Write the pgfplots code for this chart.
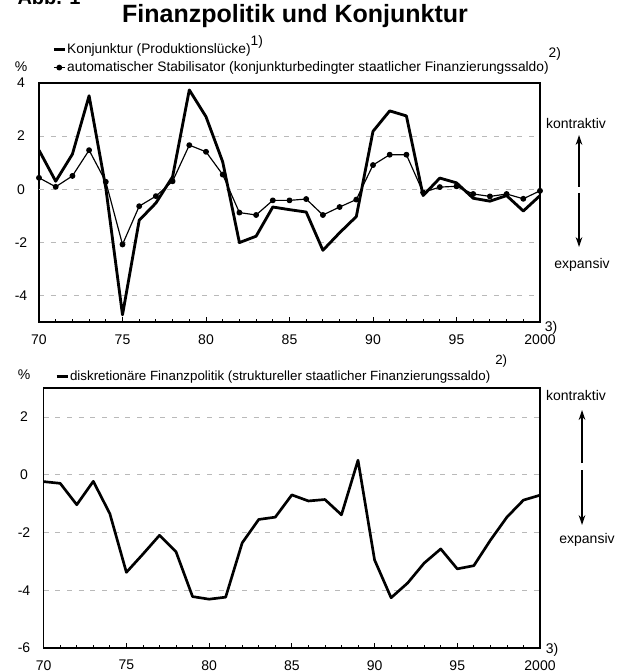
\documentclass[border=0pt]{standalone}
\usepackage{fontspec}
\setmainfont{Liberation Sans}
\usepackage{pgfplots}
\pgfplotsset{compat=1.18}
\usetikzlibrary{arrows.meta}

\pgfplotsset{
  finstil/.style={
    scale only axis,
    xmin=1970, xmax=2000,
    xtick={1970,1975,...,2000},
    xticklabels={70,75,80,85,90,95,2000},
    minor x tick num=4,
    xtick pos=bottom,
    tick align=inside,
    major tick length=3pt,
    minor tick length=2pt,
    every tick/.style={black, line width=0.5pt},
    ytick style={draw=none},
    ymajorgrids,
    major grid style={gray!55, line width=0.45pt, dash pattern=on 3pt off 4pt},
    extra y ticks={0},
    extra y tick labels={},
    extra y tick style={grid style={solid, black, line width=0.75pt}},
    axis line style={line width=0.8pt},
    ticklabel style={font=\fontsize{8.4}{10}\selectfont},
    yticklabel style={anchor=center},
    legend cell align=left,
    legend image code/.code={\draw[mark repeat=2,mark phase=2,##1]
      plot coordinates {(0pt,0pt) (3.3pt,0pt) (6.6pt,0pt)};},
  },
}

\begin{document}
\begin{tikzpicture}
\useasboundingbox (0,0) rectangle (373.2pt,-403.2pt);

% Kopf
\node[overlay, anchor=base west, font=\bfseries\fontsize{12}{12}\selectfont] at (7pt,-3pt) {Abb. 1};
\node[font=\bfseries\fontsize{15}{15}\selectfont] at (177pt,-9.6pt) {Finanzpolitik und Konjunktur};

% oberes Diagramm
\begin{axis}[finstil,
  at={(23.4pt,-193.2pt)}, anchor=south west,
  width=300.6pt, height=143.4pt,
  ymin=-5, ymax=4,
  ytick={-4,-2,0,2,4}, yticklabels={-4,-2,0,2,4},
  yticklabel style={xshift=-10.8pt},
  xticklabel style={yshift=-4.4pt},
  legend style={at={(0.026,1.172)}, anchor=north west, draw=none, fill=none,
    inner sep=0pt, row sep=2.2pt, font=\fontsize{8.25}{9.8}\selectfont,
    nodes={inner sep=0.6pt}},
]
\addplot[black, line width=1.7pt, line join=round, mark=none] coordinates {
(1970,1.47) (1971,0.30) (1972,1.32) (1973,3.52) (1974,0.05) (1975,-4.73)
(1976,-1.17) (1977,-0.52) (1978,0.47) (1979,3.74) (1980,2.73) (1981,1.03)
(1982,-2.01) (1983,-1.77) (1984,-0.67) (1985,-0.77) (1986,-0.86) (1987,-2.30)
(1988,-1.64) (1989,-1.03) (1990,2.18) (1991,2.95) (1992,2.76) (1993,-0.24)
(1994,0.42) (1995,0.24) (1996,-0.34) (1997,-0.45) (1998,-0.24) (1999,-0.82)
(2000,-0.24)};
\addlegendentry{Konjunktur (Produktionslücke)\smash{\raisebox{4.5pt}{1)}}}
\addplot[black, line width=0.7pt, line join=round, mark=*, mark size=1.4pt,
  mark options={solid, fill=black}] coordinates {
(1970,0.43) (1971,0.09) (1972,0.50) (1973,1.47) (1974,0.28) (1975,-2.08)
(1976,-0.64) (1977,-0.26) (1978,0.30) (1979,1.66) (1980,1.41) (1981,0.55)
(1982,-0.88) (1983,-0.97) (1984,-0.42) (1985,-0.42) (1986,-0.37) (1987,-0.97)
(1988,-0.67) (1989,-0.39) (1990,0.91) (1991,1.30) (1992,1.30) (1993,-0.12)
(1994,0.08) (1995,0.11) (1996,-0.18) (1997,-0.27) (1998,-0.18) (1999,-0.36)
(2000,-0.06)};
\addlegendentry{automatischer Stabilisator (konjunkturbedingter staatlicher Finanzierungssaldo)\smash{\raisebox{8.5pt}{2)}}}
\end{axis}

% unteres Diagramm
\begin{axis}[finstil,
  at={(26.2pt,-388.8pt)}, anchor=south west,
  width=297.8pt, height=156pt,
  ymin=-6, ymax=3,
  ytick={-6,-4,-2,0,2}, yticklabels={-6,-4,-2,0,2},
  yticklabel style={xshift=-11.8pt},
  xticklabel style={yshift=-3.8pt},
  legend style={at={(0.023,1.073)}, anchor=north west, draw=none, fill=none,
    inner sep=0pt, font=\fontsize{8}{9.6}\selectfont,
    nodes={inner sep=0.6pt}},
]
\addplot[black, line width=1.6pt, line join=round, mark=none] coordinates {
(1970,-0.24) (1971,-0.30) (1972,-1.04) (1973,-0.23) (1974,-1.35) (1975,-3.38)
(1976,-2.75) (1977,-2.10) (1978,-2.67) (1979,-4.22) (1980,-4.31) (1981,-4.24)
(1982,-2.36) (1983,-1.55) (1984,-1.47) (1985,-0.70) (1986,-0.91) (1987,-0.86)
(1988,-1.39) (1989,0.50) (1990,-2.95) (1991,-4.26) (1992,-3.75) (1993,-3.06)
(1994,-2.57) (1995,-3.26) (1996,-3.15) (1997,-2.27) (1998,-1.47) (1999,-0.88)
(2000,-0.71)};
\addlegendentry{diskretionäre Finanzpolitik (struktureller staatlicher Finanzierungssaldo)\smash{\raisebox{9.5pt}{\hspace{3pt}2)}}}
\end{axis}

% Beschriftungen am Rand
\begin{scope}[x=0.6pt, y=-0.6pt, font=\fontsize{8.4}{10}\selectfont]
\node at (21,67) {\%};
\node at (24,375) {\%};
\node at (551,328) {3)};
\node at (552,650) {3)};
\node at (576,123) {kontraktiv};
\draw[line width=0.8pt, -{Stealth[length=6pt,width=4pt]}] (579,187) -- (579,135);
\draw[line width=0.8pt, -{Stealth[length=6pt,width=4pt]}] (579,193) -- (579,247);
\node at (582,265) {expansiv};
\node at (576,395) {kontraktiv};
\draw[line width=0.8pt, -{Stealth[length=6pt,width=4pt]}] (582,463) -- (582,410);
\draw[line width=0.8pt, -{Stealth[length=6pt,width=4pt]}] (582,470) -- (582,525);
\node at (587,540) {expansiv};
\end{scope}
\end{tikzpicture}
\end{document}
